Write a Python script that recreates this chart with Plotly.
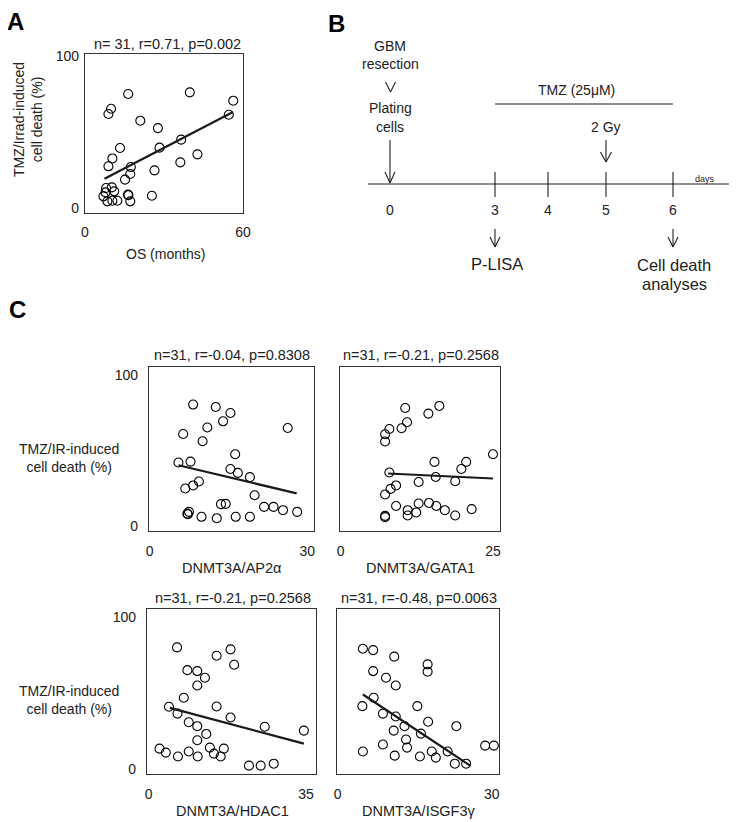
import plotly.graph_objects as go

W, H = 737, 822
OFF = 8                      # page body margin of the browser
FIG_W, FIG_H = W - OFF, H - OFF
FONT = "Arial, Liberation Sans, sans-serif"

# ---------------- Panel A data ----------------
a_os = [8.0, 10.2, 11.1, 7.0, 8.5, 10.4, 12.3, 16.3, 16.5, 17.2, 25.4, 15.2, 17.2, 17.4, 26.4,
        8.9, 10.4, 13.3, 28.3, 36.5, 36.2, 42.7, 27.7, 21.0, 8.9, 9.9, 16.4, 39.8, 56.3, 54.6, 7.8]
a_death = [13.2, 13.6, 11.0, 7.7, 4.4, 4.8, 4.8, 8.8, 8.4, 4.4, 8.1, 18.7, 22.4, 27.0, 24.8,
           27.5, 32.7, 39.6, 39.8, 45.1, 30.1, 35.4, 52.7, 57.6, 62.0, 65.5, 75.2, 76.3, 70.8, 61.5, 10.3]
a_fit_x = [7.4, 56.2]
a_fit_y = [19.3, 63.3]
a_title = "n= 31, r=0.71, p=0.002"

# ---------------- Panel C data ----------------
c1_x = [8.3, 12.6, 15.4, 14.0, 11.0, 6.4, 10.1, 26.3, 16.3, 5.5, 7.8, 15.4, 16.8, 19.1, 9.4,
        8.3, 6.8, 20.0, 13.6, 14.5, 21.8, 23.6, 25.4, 28.1, 7.5, 7.3, 9.9, 12.8, 16.4, 19.1, 7.2]
c1_y = [80.6, 79.0, 75.0, 69.5, 65.4, 61.1, 56.3, 65.1, 47.7, 42.2, 42.8, 37.9, 35.3, 32.5, 29.6,
        27.0, 25.0, 20.5, 14.6, 14.8, 12.8, 12.8, 10.6, 9.5, 9.5, 7.9, 6.2, 5.3, 6.2, 6.2, 8.3]
c1_fit_x = [5.5, 28.0]
c1_fit_y = [40.4, 21.7]

c2_x = [10.6, 16.2, 14.4, 10.9, 10.0, 8.0, 7.3, 7.3, 25.0, 15.4, 20.6, 19.8, 8.0, 15.6, 12.8,
        18.8, 9.1, 8.2, 7.3, 9.1, 11.0, 11.0, 12.4, 12.8, 14.5, 15.7, 17.1, 18.8, 21.5, 7.3, 7.3]
c2_y = [78.3, 79.7, 74.6, 68.9, 64.9, 64.4, 60.9, 56.1, 47.7, 42.6, 42.6, 37.9, 35.6, 32.6, 29.3,
        29.8, 27.0, 24.7, 21.0, 13.4, 10.6, 7.1, 9.1, 15.0, 15.4, 13.4, 10.6, 7.1, 11.3, 6.8, 6.0]
c2_fit_x = [7.8, 25.0]
c2_fit_y = [34.9, 31.6]

c3_x = [6.3, 15.1, 18.2, 19.0, 8.6, 10.8, 12.5, 10.8, 7.8, 4.5, 6.4, 15.1, 18.2, 8.9, 10.8,
        12.8, 10.8, 25.8, 34.5, 2.4, 3.8, 6.5, 8.9, 10.9, 13.6, 14.5, 16.0, 16.7, 22.3, 24.9, 27.8]
c3_y = [80.2, 74.7, 78.9, 68.8, 65.2, 64.6, 60.2, 55.1, 47.0, 41.1, 36.6, 41.3, 34.0, 30.9, 28.3,
        23.2, 19.0, 27.9, 25.4, 13.5, 10.9, 8.3, 11.6, 8.3, 14.2, 10.2, 8.3, 13.5, 2.3, 2.3, 3.6]
c3_fit_x = [4.7, 34.5]
c3_fit_y = [40.4, 16.8]

c4_x = [4.9, 6.9, 11.0, 17.5, 17.5, 6.9, 9.4, 11.3, 7.0, 4.8, 15.5, 8.8, 11.3, 17.6, 13.0,
        10.9, 16.2, 23.1, 13.3, 4.9, 11.1, 13.5, 16.0, 18.3, 19.1, 21.4, 22.8, 25.0, 28.7, 30.4, 8.8]
c4_y = [79.3, 78.4, 74.1, 69.0, 64.2, 64.6, 60.2, 55.1, 47.0, 41.5, 41.5, 36.6, 34.7, 31.2, 28.3,
        25.4, 23.4, 28.3, 19.5, 11.6, 8.9, 14.2, 8.3, 11.6, 7.6, 11.6, 3.6, 3.6, 15.5, 15.5, 16.2]
c4_fit_x = [4.9, 25.8]
c4_fit_y = [49.2, 2.3]

c_titles = ["n=31, r=-0.04, p=0.8308", "n=31, r=-0.21, p=0.2568",
            "n=31, r=-0.21, p=0.2568", "n=31, r=-0.48, p=0.0063"]
c_xlabels = ["DNMT3A/AP2\u03b1", "DNMT3A/GATA1", "DNMT3A/HDAC1", "DNMT3A/ISGF3\u03b3"]
c_xmax_tick = [30, 25, 35, 30]
c_xrange = [[-0.1, 31.3], [-0.1, 26.15], [-0.38, 37.2], [-0.14, 31.4]]
c_show_y = [True, False, True, False]

# ---------------- Panel B (schematic) ----------------
day_labels = ["0", "3", "4", "5", "6"]
day_px = [390, 495, 548, 606, 673]   # layout positions of days on the timeline


def px(x):
    return (x - OFF) / FIG_W


def py(y):
    return 1 - (y - OFF) / FIG_H


fig = go.Figure()

boxes = {
    "": (85, 243, 54, 213),
    "3": (149, 314, 367, 531),
    "4": (340, 500, 367, 531),
    "5": (147, 316, 609, 774),
    "6": (337, 499, 609, 774),
}

marker = dict(symbol="circle-open", size=9, color="black", line=dict(width=1.1, color="black"))
line_style = dict(color="#1a1a1a", width=2.2)

fig.add_trace(go.Scatter(x=a_os, y=a_death, mode="markers", marker=marker, xaxis="x", yaxis="y",
                         showlegend=False, cliponaxis=False))
fig.add_trace(go.Scatter(x=a_fit_x, y=a_fit_y, mode="lines", line=line_style, xaxis="x", yaxis="y",
                         showlegend=False))

c_data = [(c1_x, c1_y, c1_fit_x, c1_fit_y), (c2_x, c2_y, c2_fit_x, c2_fit_y),
          (c3_x, c3_y, c3_fit_x, c3_fit_y), (c4_x, c4_y, c4_fit_x, c4_fit_y)]
for i, (xs, ys, fx, fy) in enumerate(c_data):
    ax = str(i + 3)
    fig.add_trace(go.Scatter(x=xs, y=ys, mode="markers", marker=marker, xaxis="x" + ax, yaxis="y" + ax,
                             showlegend=False, cliponaxis=False))
    fig.add_trace(go.Scatter(x=fx, y=fy, mode="lines", line=line_style, xaxis="x" + ax, yaxis="y" + ax,
                             showlegend=False))

layout = dict(
    width=FIG_W, height=FIG_H, autosize=False,
    margin=dict(l=0, r=0, t=0, b=0, pad=0),
    paper_bgcolor="white", plot_bgcolor="white",
    font=dict(family=FONT, size=14, color="#222222"),
    showlegend=False,
)


def axis_pair(key, box, xr, yr, xticks, yticks, xstand, ystand, show_y=True):
    x0, x1, y0, y1 = box
    common = dict(showgrid=False, zeroline=False, showline=True, linecolor="#333333", linewidth=1.2,
                  mirror=True, ticks="", fixedrange=True, automargin=False,
                  tickfont=dict(size=14, color="#222222"))
    xa = dict(common, domain=[px(x0), px(x1)], range=xr, tickvals=xticks,
              ticktext=[str(t) for t in xticks], anchor="y" + key, ticklabelstandoff=xstand)
    ya = dict(common, domain=[py(y1), py(y0)], range=yr, tickvals=yticks,
              ticktext=[str(t) for t in yticks], anchor="x" + key, ticklabelstandoff=ystand,
              showticklabels=show_y)
    layout["xaxis" + key] = xa
    layout["yaxis" + key] = ya


axis_pair("", boxes[""], [0, 60], [-3.3, 101.6], [0, 60], [0, 100], 6, 2)
for i in range(4):
    key = str(i + 3)
    axis_pair(key, boxes[key], c_xrange[i], [-3.2, 105.5], [0, c_xmax_tick[i]], [0, 100], 7, 7,
              c_show_y[i])

fig.update_layout(**layout)

ann = []


def text(x, y, s, size=14, **kw):
    d = dict(x=px(x), y=py(y), xref="paper", yref="paper", text=s, showarrow=False,
             font=dict(family=FONT, size=size, color="#222222"), xanchor="center", yanchor="middle")
    d.update(kw)
    ann.append(d)


text(16, 22, "<b>A</b>", font=dict(family=FONT, size=24, color="black"))
text(336, 23, "<b>B</b>", font=dict(family=FONT, size=24, color="black"))
text(17, 309, "<b>C</b>", font=dict(family=FONT, size=24, color="black"))

text(167, 44, a_title, size=14.5)
text(165, 254, "OS (months)", size=14)
text(28, 120, "TMZ/Irrad-induced<br>cell death (%)", size=14, textangle=-90)

c_title_pos = [(232, 355), (421, 355), (233, 598), (419, 598)]
c_xlab_pos = [(231, 568), (420, 568), (232, 811), (419, 811)]
for i in range(4):
    text(*c_title_pos[i], c_titles[i], size=14.5)
    text(*c_xlab_pos[i], c_xlabels[i], size=14.5)
text(69, 458, "TMZ/IR-induced<br>cell death (%)", size=14)
text(69, 700, "TMZ/IR-induced<br>cell death (%)", size=14)

text(390, 46, "GBM", size=14)
text(390, 64, "resection", size=14)
text(390, 108, "Plating", size=14)
text(390, 127, "cells", size=14)
text(576, 90, "TMZ (25\u03bcM)", size=14)
text(606, 127, "2 Gy", size=14)
text(705, 179, "days", size=9)
for lab, xp in zip(day_labels, day_px):
    text(xp, 210, lab, size=14)
text(497, 264, "P-LISA", size=16.5)
text(674, 265, "Cell death", size=16.5)
text(674, 284, "analyses", size=16.5)

fig.update_layout(annotations=ann)

shapes = []


def seg(x0, y0, x1, y1, w=1.1):
    shapes.append(dict(type="line", xref="paper", yref="paper", x0=px(x0), y0=py(y0), x1=px(x1), y1=py(y1),
                       line=dict(color="#222222", width=w)))


def chevron(x, ytip, half=5, h=10, w=1.1):
    seg(x - half, ytip - h, x, ytip, w)
    seg(x, ytip, x + half, ytip - h, w)


seg(368, 184, 732, 184)
for xp in day_px[1:]:
    seg(xp, 172, xp, 197)
seg(day_px[0], 140, day_px[0], 183)
chevron(day_px[0], 183, 5, 11)
chevron(390.5, 92, 5, 10)
seg(day_px[1], 104, day_px[4], 104)
seg(day_px[3], 140, day_px[3], 162)
chevron(day_px[3], 162, 5.5, 10)
for xp in (day_px[1], day_px[4]):
    seg(xp, 229, xp, 247)
    chevron(xp, 247, 5, 10)

fig.update_layout(shapes=shapes)

fig.write_html("out.html")
